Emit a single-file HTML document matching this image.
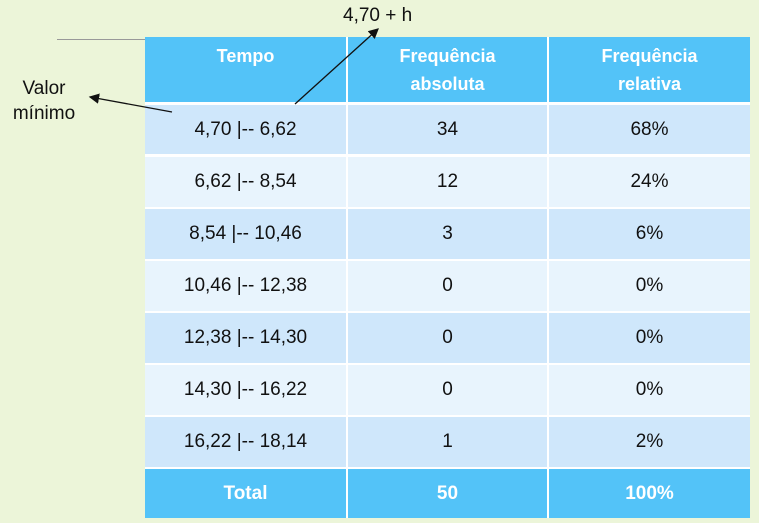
<!DOCTYPE html>
<html><head><meta charset="utf-8"><style>
body{margin:0;width:759px;height:523px;background:#ecf5d9;position:relative;overflow:hidden;font-family:"Liberation Sans",sans-serif;}
.c{position:absolute;display:flex;align-items:center;justify-content:center;text-align:center;font-size:19px;color:#111;box-sizing:border-box;}
.h{background:#53c3f8;color:#fff;font-weight:bold;font-size:18px;line-height:28px;}
.o{background:#cfe7fb}.e{background:#e8f4fd}
.t{background:#53c3f8;color:#fff;font-weight:bold;}
.lbl{position:absolute;font-size:19px;color:#111;line-height:25px;}
</style></head><body>
<div style="position:absolute;left:57px;top:39px;width:88px;height:1px;background:#999"></div>
<div style="position:absolute;left:145px;top:37px;width:605px;height:481px;background:#fff"></div>
<div class="lbl" style="left:6px;top:76px;text-align:center;width:76px">Valor<br>mínimo</div>
<div class="lbl" style="left:343px;top:3px">4,70 + h</div>
<div id="tbl"></div>
<svg width="759" height="523" style="position:absolute;left:0;top:0">
<defs><marker id="a" markerWidth="8" markerHeight="8" refX="7" refY="4" orient="auto"><path d="M0,0 L8,4 L0,8z" fill="#111"/></marker></defs>
<line x1="172" y1="112" x2="90" y2="97" stroke="#111" stroke-width="1.3" marker-end="url(#a)"/>
<line x1="295" y1="104" x2="378" y2="29" stroke="#111" stroke-width="1.3" marker-end="url(#a)"/>
</svg>
<script>
const classes=["4,70 |-- 6,62","6,62 |-- 8,54","8,54 |-- 10,46","10,46 |-- 12,38","12,38 |-- 14,30","14,30 |-- 16,22","16,22 |-- 18,14"];
const absolute=[34,12,3,0,0,0,1];
const relative=["68%","24%","6%","0%","0%","0%","2%"];
const total=["Total","50","100%"];
const tbl=document.getElementById('tbl');
const xs=[145,348,549],ws=[201,199,201];
function cell(x,y,w,h,cls,txt,name){const d=document.createElement('div');d.className='c '+cls;
d.style.cssText=`left:${x}px;top:${y}px;width:${w}px;height:${h}px`;d.innerHTML=txt;


tbl.appendChild(d);}
const hdr=["Tempo<br>&nbsp;","Frequência<br>absoluta","Frequência<br>relativa"];
hdr.forEach((t,i)=>cell(xs[i],37,ws[i],65,'h',t,'header-cell'));
for(let r=0;r<classes.length;r++){const y=105+r*52,h=r==0?49:50,c=r%2?'e':'o';
[classes[r],absolute[r],relative[r]].forEach((t,i)=>cell(xs[i],y,ws[i],h,c,t,'table-cell'));}
total.forEach((t,i)=>cell(xs[i],469,ws[i],49,'t',t,'total-cell'));
</script>
</body></html>
